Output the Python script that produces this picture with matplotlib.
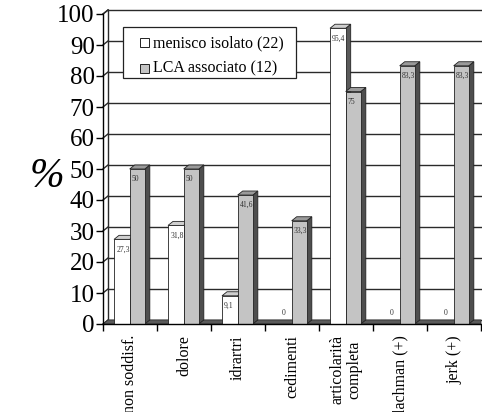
import matplotlib
matplotlib.use("Agg")
import matplotlib.pyplot as plt
from matplotlib.patches import Rectangle, Polygon
from matplotlib.lines import Line2D

categories = ["non soddisf.", "dolore", "idrartri", "cedimenti",
              "articolarità\ncompleta", "lachman (+)", "jerk (+)"]
menisco = [27.3, 31.8, 9.1, 0, 95.4, 0, 0]
lca = [50, 50, 41.6, 33.3, 75, 83.3, 83.3]
series_names = ["menisco isolato (22)", "LCA associato (12)"]
yticks = [0, 10, 20, 30, 40, 50, 60, 70, 80, 90, 100]

FONT = "Liberation Serif"
W, H = 482, 412
fig = plt.figure(figsize=(W / 100, H / 100), dpi=100)
ax = fig.add_axes([103 / W, (H - 324) / H, 378 / W, 310 / H])
ax.set_xlim(0, 7)
ax.set_ylim(0, 100)

DX, DY = 0.093, 1.3  # 3D depth in data units

# back wall gridlines and frame
for v in yticks:
    ax.plot([DX, 7], [v + DY, v + DY], color="#2a2a2a", lw=1.0, zorder=1, clip_on=False)
    ax.plot([0, DX], [v, v + DY], color="#2a2a2a", lw=1.0, zorder=1, clip_on=False)
ax.plot([DX, DX], [DY, 100 + DY], color="#2a2a2a", lw=1.0, zorder=1, clip_on=False)
ax.plot([0, DX], [100, 100 + DY], color="#2a2a2a", lw=1.0, zorder=1, clip_on=False)

# floor strip
ax.add_patch(Polygon([(0, 0), (DX, DY), (7, DY), (7, 0)], closed=True,
                     facecolor="#5a5a5a", edgecolor="#333333", lw=0.6, zorder=2, clip_on=False))

WHITE_FACE, WHITE_TOP, WHITE_SIDE = "#ffffff", "#cfcfcf", "#5a5a5a"
GRAY_FACE, GRAY_TOP, GRAY_SIDE = "#c4c4c4", "#9a9a9a", "#4e4e4e"


def bar3d(x, w, h, face, top, side, z):
    if h <= 0:
        return
    ax.add_patch(Polygon([(x + w, 0), (x + w + DX, DY), (x + w + DX, h + DY), (x + w, h)],
                         closed=True, facecolor=side, edgecolor="#222222", lw=0.6, zorder=z, clip_on=False))
    ax.add_patch(Polygon([(x, h), (x + DX, h + DY), (x + w + DX, h + DY), (x + w, h)],
                         closed=True, facecolor=top, edgecolor="#222222", lw=0.6, zorder=z, clip_on=False))
    ax.add_patch(Rectangle((x, 0), w, h, facecolor=face, edgecolor="#222222", lw=0.6,
                           zorder=z, clip_on=False))


def fmt(v):
    return ("%g" % v).replace(".", ",")


BW = 0.29
for i in range(len(categories)):
    x1 = i + 0.204
    x2 = x1 + BW
    bar3d(x1, BW, menisco[i], WHITE_FACE, WHITE_TOP, WHITE_SIDE, 3 + i * 2)
    bar3d(x2, BW - 0.01, lca[i], GRAY_FACE, GRAY_TOP, GRAY_SIDE, 4 + i * 2)
    if menisco[i] > 0:
        ax.text(x1 + 0.04, menisco[i] - 2.0, fmt(menisco[i]), fontsize=5.5, family=FONT,
                ha="left", va="top", zorder=20, color="#333333")
    else:
        ax.text(x1 + BW / 2, 3.5, "0", fontsize=5.5, family=FONT,
                ha="center", va="center", zorder=20, color="#333333")
    ax.text(x2 + 0.04, lca[i] - 2.0, fmt(lca[i]), fontsize=5.5, family=FONT,
            ha="left", va="top", zorder=20, color="#333333")

# axes styling
for s in ["top", "right"]:
    ax.spines[s].set_visible(False)
ax.spines["left"].set_linewidth(1.0)
ax.spines["bottom"].set_linewidth(1.0)
ax.spines["left"].set_zorder(30)
ax.spines["bottom"].set_zorder(30)
ax.set_yticks(yticks)
ax.set_yticklabels([str(v) for v in yticks], family=FONT, fontsize=18)
ax.tick_params(axis="y", length=5, width=1.0, pad=1, direction="out")
ax.set_xticks([i + 0.5 for i in range(len(categories))])
ax.set_xticklabels(categories, rotation=90, family=FONT, fontsize=11.5, linespacing=1.0)
ax.tick_params(axis="x", which="major", length=0, pad=8)
ax.set_xticks(list(range(0, 8)), minor=True)
ax.tick_params(axis="x", which="minor", length=5, width=1.0, direction="out")
ax.patch.set_visible(False)

fig.text(47 / W, 1 - 177 / H, "%", family=FONT, style="italic", fontsize=30,
         ha="center", va="center")

# legend drawn manually in figure pixel coords
def fx(px):
    return px / W


def fy(py):
    return 1 - py / H


fig.patches.append(Rectangle((fx(123), fy(78)), (296 - 123) / W, 51 / H, transform=fig.transFigure,
                             facecolor="white", edgecolor="#222222", lw=0.9, zorder=40))
fig.patches.append(Rectangle((fx(140), fy(47)), 9 / W, 9 / H, transform=fig.transFigure,
                             facecolor=WHITE_FACE, edgecolor="#222222", lw=0.7, zorder=41))
fig.patches.append(Rectangle((fx(140), fy(73)), 9 / W, 9 / H, transform=fig.transFigure,
                             facecolor=GRAY_FACE, edgecolor="#222222", lw=0.7, zorder=41))
fig.text(fx(153), fy(43), series_names[0], family=FONT, fontsize=11.5, ha="left", va="center", zorder=42)
fig.text(fx(153), fy(68), series_names[1], family=FONT, fontsize=11.5, ha="left", va="center", zorder=42)

fig.savefig("out.png", dpi=100)
